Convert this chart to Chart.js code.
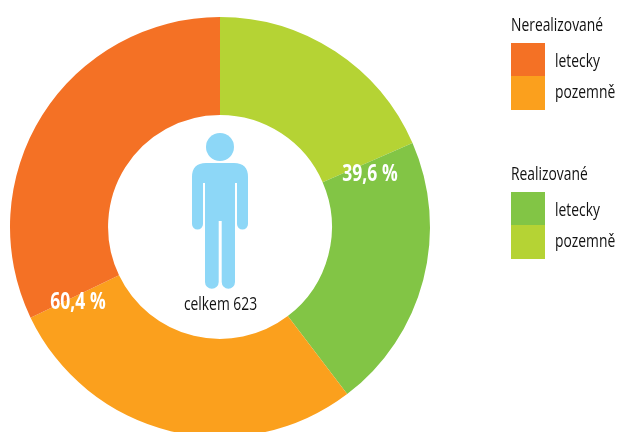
<!DOCTYPE html>
<html>
<head>
<meta charset="utf-8">
<script src="https://cdn.jsdelivr.net/npm/chart.js@4"></script>
<style>
html,body{margin:0;padding:0;background:#fff;overflow:hidden;width:617px;height:432px}
#wrap{position:absolute;left:0;top:0;width:617px;height:454px}
</style>
</head>
<body>
<div id="wrap"><canvas id="c" width="617" height="454"></canvas></div>
<script>
const categories = ['Realizované pozemně','Realizované letecky','Nerealizované pozemně','Nerealizované letecky'];
const values = [115,132,176,200];
const colors = ['#B5D334','#82C545','#FBA01D','#F47125'];
const shareLabels = ['39,6 %','60,4 %'];
const totalLabel = 'celkem 623';
const legendGroups = ['Nerealizované','Realizované'];
const legendItems = ['letecky','pozemně'];
const FONT = '"Open Sans",sans-serif';

function narrowText(x,text,px,py,ratio,align){
  x.save();
  x.translate(px,py);
  x.scale(ratio,1);
  x.textAlign=align;
  x.textBaseline='alphabetic';
  x.fillText(text,0,0);
  x.restore();
}

const overlay = {
  id:'overlay',
  afterDraw(chart){
    const x = chart.ctx;
    x.save();
    // person icon
    x.fillStyle = '#8DD7F7';
    x.beginPath(); x.arc(220,147,14,0,Math.PI*2); x.fill();
    x.beginPath();
    x.moveTo(192,224); x.lineTo(192,177);
    x.quadraticCurveTo(192,163,206,163);
    x.lineTo(234,163);
    x.quadraticCurveTo(248,163,248,177);
    x.lineTo(248,224);
    x.arc(242.5,224,5.5,0,Math.PI);
    x.lineTo(237,183); x.lineTo(235,183);
    x.lineTo(235,282);
    x.arc(228.35,282,6.65,0,Math.PI);
    x.lineTo(221.7,221); x.lineTo(218.7,221);
    x.lineTo(218.7,282);
    x.arc(211.85,282,6.85,0,Math.PI);
    x.lineTo(205,183); x.lineTo(203,183);
    x.lineTo(203,224);
    x.arc(197.5,224,5.5,0,Math.PI);
    x.closePath(); x.fill();
    // total
    x.fillStyle = '#111';
    x.font = '18px '+FONT;
    narrowText(x,totalLabel,220.5,310,0.77,'center');
    // share labels
    x.fillStyle='#fff';
    x.font='bold 23px '+FONT;
    narrowText(x,shareLabels[0],370,181,0.76,'center');
    narrowText(x,shareLabels[1],78,309,0.76,'center');
    // legend
    const rows = [
      [legendGroups[0],31,43,[colors[3],colors[2]],[67,98]],
      [legendGroups[1],180,192,[colors[1],colors[0]],[216,247]]
    ];
    for(const [title,ty,by,cols,lys] of rows){
      x.fillStyle='#111';
      x.font='18px '+FONT;
      narrowText(x,title,511,ty,0.77,'left');
      x.fillStyle=cols[0]; x.fillRect(511,by,34,33);
      x.fillStyle=cols[1]; x.fillRect(511,by+33,34,34);
      x.fillStyle='#111';
      narrowText(x,legendItems[0],555,lys[0],0.77,'left');
      narrowText(x,legendItems[1],555,lys[1],0.77,'left');
    }
    x.restore();
  }
};

new Chart(document.getElementById('c'),{
  type:'doughnut',
  data:{labels:categories,datasets:[{data:values,backgroundColor:colors,borderWidth:0}]},
  options:{
    responsive:false,animation:false,cutout:'53.3%',
    layout:{padding:{left:10,top:17,right:187,bottom:17}},
    plugins:{legend:{display:false},tooltip:{enabled:false}}
  },
  plugins:[overlay]
});
</script>
</body>
</html>
